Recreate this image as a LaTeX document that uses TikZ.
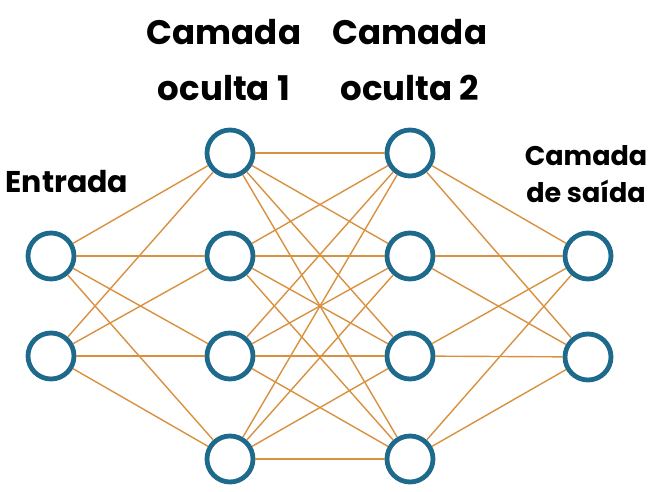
\documentclass[tikz,border=0pt]{standalone}
\usepackage{fontspec}
\setmainfont{Poppins}[BoldFont={* Bold}]
\definecolor{nodeblue}{HTML}{1E6A8D}
\definecolor{edgeorange}{HTML}{D9903F}
\begin{document}
\begin{tikzpicture}[x=1pt,y=-1pt,
  neuron/.style={circle,draw=nodeblue,line width=4.8pt,fill=white,minimum size=46pt,inner sep=0pt},
  edge/.style={draw=edgeorange,line width=1.4pt},
  bigtitle/.style={font=\fontsize{34}{38}\selectfont\bfseries,anchor=base,inner sep=0pt},
  smalltitle/.style={font=\fontsize{27}{30}\selectfont\bfseries,anchor=base,inner sep=0pt},
  intitle/.style={font=\fontsize{30}{33}\selectfont\bfseries,anchor=base,inner sep=0pt}]
\useasboundingbox (0,0) rectangle (659,492);
% nodes
\node[neuron] (i1) at (51,256) {};
\node[neuron] (i2) at (51,356) {};
\node[neuron] (a1) at (230,153) {};
\node[neuron] (a2) at (230,256) {};
\node[neuron] (a3) at (230,356) {};
\node[neuron] (a4) at (230,459) {};
\node[neuron] (b1) at (410,153) {};
\node[neuron] (b2) at (410,256) {};
\node[neuron] (b3) at (410,356) {};
\node[neuron] (b4) at (410,459) {};
\node[neuron] (o1) at (588,256) {};
\node[neuron] (o2) at (588,357) {};
% edges
\foreach \s in {i1,i2}{\foreach \t in {a1,a2,a3,a4}{\draw[edge] (\s) -- (\t);}}
\foreach \s in {a1,a2,a3,a4}{\foreach \t in {b1,b2,b3,b4}{\draw[edge] (\s) -- (\t);}}
\foreach \s in {b1,b2,b3,b4}{\foreach \t in {o1,o2}{\draw[edge] (\s) -- (\t);}}
% labels
\node[bigtitle] (t1a) at (224,45) {Camada};
\node[bigtitle] (t1b) at (224,101) {oculta 1};
\node[bigtitle] (t2a) at (410,45) {Camada};
\node[bigtitle] (t2b) at (410,101) {oculta 2};
\node[intitle] (tin) at (67,193) {Entrada};
\node[smalltitle] (to1) at (586,166) {Camada};
\node[smalltitle] (to2) at (586,203) {de saída};
\end{tikzpicture}
\end{document}
